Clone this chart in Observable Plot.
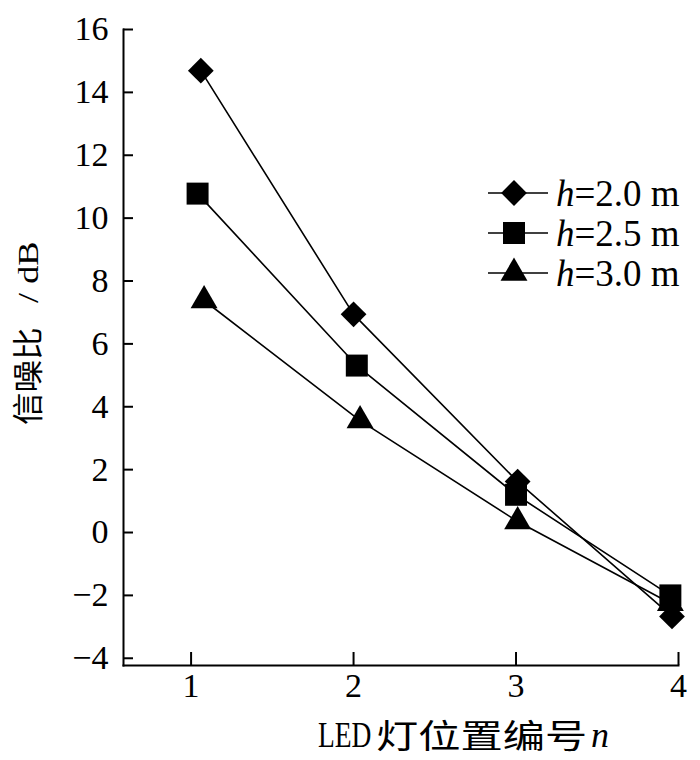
<!DOCTYPE html>
<html><head><meta charset="utf-8">
<script src="https://cdn.jsdelivr.net/npm/d3@7"></script>
<script src="https://cdn.jsdelivr.net/npm/@observablehq/plot@0.6"></script>
<style>body{margin:0;background:#fff}</style>
</head><body><div id="chart"></div>
<script>
// ---- data ----
const seriesH = ["2.0", "2.5", "3.0"];            // h values (m)
const x_h20 = [1.06, 2.00, 3.01, 3.96];
const y_h20 = [14.69, 6.94, 1.62, -2.67];
const x_h25 = [1.04, 2.02, 3.00, 3.95];
const y_h25 = [10.78, 5.31, 1.20, -2.00];
const x_h30 = [1.08, 2.04, 3.01, 3.95];
const y_h30 = [7.38, 3.56, 0.35, -2.25];
const xTicks = [1, 2, 3, 4];
const yTicks = [-4, -2, 0, 2, 4, 6, 8, 10, 12, 14, 16];
const xLabelLatin = "LED";
const xLabelCJK = "灯位置编号";
const xLabelVar = "n";
const yLabelCJK = "信噪比";
const yLabelUnit = "/ dB";

const symbols = ["diamond2", "square", "triangle"];
const d3symbols = [d3.symbolDiamond2, d3.symbolSquare, d3.symbolTriangle];
const radii = [11.6, 12.4, 10.0];

const xs = [x_h20, x_h25, x_h30], ys = [y_h20, y_h25, y_h30];
const rows = seriesH.flatMap((h, i) => xs[i].map((x, j) => ({series: h, x, y: ys[i][j]})));

const FONT = "'Liberation Serif','Times New Roman','Noto Sans CJK SC',serif";
const CJK = "'Noto Sans CJK SC',sans-serif";
const W = 700, H = 760;

const plot = Plot.plot({
  width: W, height: H,
  marginLeft: 123, marginRight: 22, marginTop: 29, marginBottom: 95,
  x: {domain: [0.584, 4]},
  y: {domain: [-4.23, 16]},
  style: {fontFamily: FONT, fontSize: "34px", color: "#000", background: "#fff"},
  marks: [
    Plot.axisY(yTicks, {tickSize: 10, dx: 10, fill: "none", strokeWidth: 2}),
    Plot.axisY(yTicks, {tickSize: 0, tickPadding: 15, label: null, fontSize: 34, tickFormat: d => d3.format("d")(d).replace("-", "−")}),
    Plot.axisX(xTicks, {tickSize: 13, dy: -13, fill: "none", strokeWidth: 2}),
    Plot.axisX(xTicks, {tickSize: 0, tickPadding: 7, label: null, fontSize: 34, tickFormat: d => String(d)}),
    Plot.frame({anchor: "left", strokeWidth: 2}),
    Plot.frame({anchor: "bottom", strokeWidth: 2}),
    Plot.line(rows, {x: "x", y: "y", z: "series", stroke: "#000", strokeWidth: 1.6}),
    ...seriesH.map((h, i) => Plot.dot(rows.filter(d => d.series === h),
      {x: "x", y: "y", symbol: symbols[i], r: radii[i], fill: "#000", stroke: "none"}))
  ]
});
document.getElementById("chart").appendChild(plot);

const svg = d3.select(plot);
// legend
const lg = svg.append("g").attr("font-family", FONT).attr("font-size", 37).attr("text-anchor", "start");
seriesH.forEach((h, i) => {
  const cy = 193 + i * 40;
  lg.append("line").attr("x1", 488).attr("x2", 548).attr("y1", cy).attr("y2", cy)
    .attr("stroke", "#000").attr("stroke-width", 1.6);
  lg.append("path").attr("d", d3.symbol(d3symbols[i], Math.PI * radii[i] * radii[i])())
    .attr("transform", `translate(514,${cy})`).attr("fill", "#000");
  const t = lg.append("text").attr("x", 556).attr("y", cy).attr("dy", "0.34em");
  t.append("tspan").attr("font-style", "italic").text("h");
  t.append("tspan").text(`=${h} m`);
});
// x label (three runs, scaled to the reference's stretched lettering)
const xg = svg.append("g").attr("text-anchor", "start");
xg.append("text").attr("transform", "translate(318,747) scale(1,1.3)").attr("font-family", FONT)
  .attr("font-size", 27.5).text(xLabelLatin);
xg.append("text").attr("transform", "translate(376,748) scale(1.28,1)").attr("font-family", CJK)
  .attr("font-size", 33).text(xLabelCJK);
xg.append("text").attr("x", 591).attr("y", 747).attr("font-family", FONT).attr("font-size", 36)
  .attr("font-style", "italic").text(xLabelVar);
// y label (rotated)
const yg = svg.append("g").attr("transform", "translate(28,425) rotate(-90)").attr("text-anchor", "start");
yg.append("text").attr("transform", "scale(1.05,1)").attr("dy", "0.36em").attr("font-family", CJK)
  .attr("font-size", 31).text(yLabelCJK);
yg.append("text").attr("transform", "translate(122,0) scale(1.25,1)").attr("dy", "0.33em")
  .attr("font-family", FONT).attr("font-size", 29).text(yLabelUnit);
</script>
</body></html>
